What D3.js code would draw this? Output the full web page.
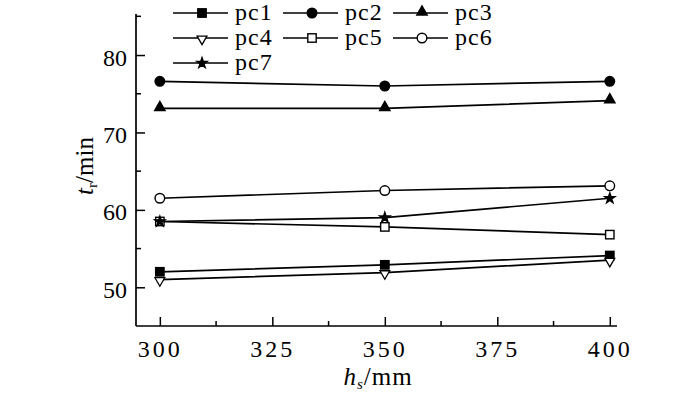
<!DOCTYPE html>
<html>
<head>
<meta charset="utf-8">
<script src="https://cdn.jsdelivr.net/npm/d3@7"></script>
<style>
  body { margin: 0; background: #fff; }
  text { font-family: "Liberation Serif", "Times New Roman", serif; fill: #000; }
</style>
</head>
<body>
<svg id="chart" width="700" height="393"></svg>
<script>
// data
const xValues = [300, 350, 400];
const seriesNames = ['pc1', 'pc2', 'pc3', 'pc4', 'pc5', 'pc6', 'pc7'];
const pc1 = [52.0, 52.9, 54.1];
const pc2 = [76.6, 76.0, 76.6];
const pc3 = [73.1, 73.1, 74.1];
const pc4 = [51.0, 51.9, 53.5];
const pc5 = [58.5, 57.8, 56.8];
const pc6 = [61.5, 62.5, 63.1];
const pc7 = [58.5, 59.0, 61.5];
const xTicks = [300, 325, 350, 375, 400];
const yTicks = [50, 60, 70, 80];

const seriesValues = [pc1, pc2, pc3, pc4, pc5, pc6, pc7];
const markers = ['square', 'circle', 'triangle', 'triangleDown', 'squareOpen', 'circleOpen', 'star'];

const svg = d3.select('#chart');
const x = d3.scaleLinear().domain([294.7, 401.6]).range([136, 617]);
const y = d3.scaleLinear().domain([45, 85.3]).range([326, 14]);

// marker drawing
function drawMarker(g, type, cx, cy) {
  const filled = ['square', 'circle', 'triangle', 'star'].includes(type);
  const fill = filled ? '#000' : '#fff';
  let sym;
  if (type === 'square' || type === 'squareOpen') {
    g.append('rect').attr('x', cx - 4.2).attr('y', cy - 4.2).attr('width', 8.4).attr('height', 8.4)
      .attr('fill', fill).attr('stroke', '#000').attr('stroke-width', 1.4);
    return;
  }
  if (type === 'circle' || type === 'circleOpen') {
    g.append('circle').attr('cx', cx).attr('cy', cy).attr('r', 4.8)
      .attr('fill', fill).attr('stroke', '#000').attr('stroke-width', 1.4);
    return;
  }
  if (type === 'triangle') sym = d3.symbol(d3.symbolTriangle, 48)();
  else if (type === 'triangleDown') sym = d3.symbol(d3.symbolTriangle, 42)();
  else sym = d3.symbol(d3.symbolStar, 34)();
  const p = g.append('path').attr('d', sym)
    .attr('fill', fill).attr('stroke', '#000').attr('stroke-width', 1.3);
  if (type === 'triangleDown') p.attr('transform', `translate(${cx},${cy + 1}) rotate(180)`);
  else if (type === 'triangle') p.attr('transform', `translate(${cx},${cy - 1})`);
  else p.attr('transform', `translate(${cx},${cy})`);
}

// axes (ticks point inward)
const xAxis = d3.axisBottom(x).tickValues(xTicks).tickSize(-9).tickPadding(14).tickFormat(d3.format('d'));
const gx = svg.append('g').attr('transform', 'translate(0,326)').call(xAxis);
gx.select('.domain').attr('d', 'M136,0H617').attr('stroke-width', 1.7);
gx.selectAll('.tick line').attr('stroke-width', 1.5);
gx.selectAll('.tick text').attr('font-size', 24).attr('letter-spacing', 3)
  .attr('font-family', '"Liberation Serif", serif');
gx.selectAll('.minor').data([312.5, 337.5, 362.5, 387.5]).enter().append('line')
  .attr('x1', d => x(d)).attr('x2', d => x(d)).attr('y1', 0).attr('y2', -5)
  .attr('stroke', '#000').attr('stroke-width', 1.5);

const yAxis = d3.axisLeft(y).tickValues(yTicks).tickSize(-9).tickPadding(9);
const gy = svg.append('g').attr('transform', 'translate(136,0)').call(yAxis);
gy.select('.domain').attr('d', 'M0,14V326').attr('stroke-width', 1.7);
gy.selectAll('.tick line').attr('stroke-width', 1.5);
gy.selectAll('.tick text').attr('font-size', 24).attr('dy', '0.42em')
  .attr('font-family', '"Liberation Serif", serif');
gy.selectAll('.minor').data([55, 65, 75, 85]).enter().append('line')
  .attr('x1', 0).attr('x2', 5).attr('y1', d => y(d)).attr('y2', d => y(d))
  .attr('stroke', '#000').attr('stroke-width', 1.5);

// axis titles
const xt = svg.append('text').attr('x', 378).attr('y', 385).attr('text-anchor', 'middle')
  .attr('font-size', 25).attr('letter-spacing', 1);
xt.append('tspan').attr('font-style', 'italic').text('h');
xt.append('tspan').attr('font-style', 'italic').attr('font-size', 15).attr('dy', 4).text('s');
xt.append('tspan').attr('dy', -4).text('/mm');

const yt = svg.append('text').attr('transform', 'translate(93,166) rotate(-90)')
  .attr('text-anchor', 'middle').attr('font-size', 25);
yt.append('tspan').attr('font-style', 'italic').text('t');
yt.append('tspan').attr('font-size', 15).attr('dy', 4).text('r');
yt.append('tspan').attr('dy', -4).text('/min');

// series
const line = d3.line().x((d, i) => x(xValues[i])).y(d => y(d));
seriesValues.forEach((vals, k) => {
  const g = svg.append('g');
  g.append('path').attr('d', line(vals)).attr('fill', 'none').attr('stroke', '#000').attr('stroke-width', 1.7);
  vals.forEach((v, i) => drawMarker(g, markers[k], x(xValues[i]), y(v)));
});

// legend
const legend = svg.append('g');
seriesNames.forEach((name, k) => {
  const col = k % 3, row = Math.floor(k / 3);
  const lx = 173 + col * 110, ly = 13 + row * 25;
  const g = legend.append('g');
  g.append('line').attr('x1', lx).attr('x2', lx + 55).attr('y1', ly).attr('y2', ly)
    .attr('stroke', '#000').attr('stroke-width', 1.6);
  drawMarker(g, markers[k], lx + 29, ly);
  g.append('text').attr('x', lx + 62).attr('y', ly + 7).attr('font-size', 24)
    .attr('letter-spacing', 1).text(name);
});
</script>
</body>
</html>
